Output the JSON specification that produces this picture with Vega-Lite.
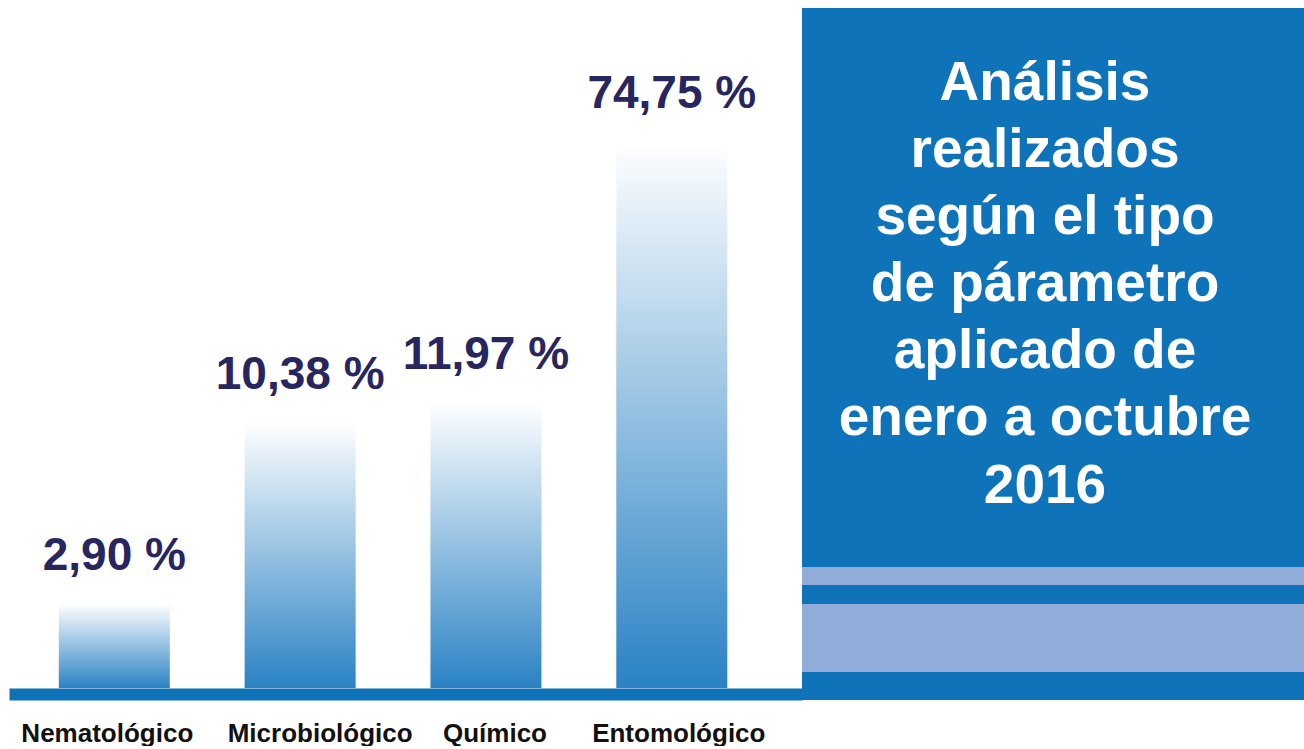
{
  "$schema": "https://vega.github.io/schema/vega-lite/v6.json",
  "background": "white",
  "padding": {"left": 9, "top": 8, "right": 0, "bottom": 0},
  "spacing": 0,
  "config": {
    "view": {"stroke": null},
    "font": "Liberation Sans"
  },
  "hconcat": [
    {
      "width": 793,
      "height": 680,
      "data": {
        "values": [
          {"tipo": "Nematológico", "porcentaje": 2.90, "etiqueta": "2,90 %"},
          {"tipo": "Microbiológico", "porcentaje": 10.38, "etiqueta": "10,38 %"},
          {"tipo": "Químico", "porcentaje": 11.97, "etiqueta": "11,97 %"},
          {"tipo": "Entomológico", "porcentaje": 74.75, "etiqueta": "74,75 %"}
        ]
      },
      "encoding": {
        "x": {
          "field": "tipo",
          "type": "nominal",
          "sort": null,
          "scale": {"paddingInner": 0.4026, "paddingOuter": 0.335, "align": 0.4},
          "axis": {
            "title": null,
            "labelAngle": 0,
            "labelFont": "Liberation Sans",
            "labelFontSize": 26,
            "labelFontWeight": "bold",
            "labelColor": "#111111",
            "labelPadding": 26,
            "labelLimit": 400,
            "labelOverlap": false,
            "labelBound": false,
            "labelOffset": {
              "condition": [
                {"test": "datum.value === 'Nematológico'", "value": -7},
                {"test": "datum.value === 'Microbiológico'", "value": 20},
                {"test": "datum.value === 'Químico'", "value": 9}
              ],
              "value": 7
            },
            "ticks": false,
            "tickSize": 0,
            "domainColor": "#0f73ba",
            "domainWidth": 12,
            "offset": 6,
            "grid": false
          }
        },
        "y": {
          "field": "porcentaje",
          "type": "quantitative",
          "scale": {"type": "log", "domain": [1.6, 190], "nice": false},
          "axis": null
        }
      },
      "layer": [
        {
          "mark": {
            "type": "bar",
            "fill": {
              "gradient": "linear",
              "x1": 0, "y1": 0, "x2": 0, "y2": 1,
              "stops": [
                {"offset": 0, "color": "#ffffff"},
                {"offset": 1, "color": "#2a82c4"}
              ]
            }
          },
          "encoding": {
            "y2": {"datum": 1.6}
          }
        },
        {
          "mark": {
            "type": "text",
            "baseline": "alphabetic",
            "align": "center",
            "dy": -33,
            "fontSize": 46,
            "fontWeight": "bold",
            "font": "Liberation Sans",
            "color": "#27265f"
          },
          "encoding": {"text": {"field": "etiqueta"}}
        }
      ]
    },
    {
      "width": 502,
      "height": 692,
      "view": {"fill": "#0f73ba", "stroke": null},
      "data": {
        "values": [
          {"encabezado": "Análisis\nrealizados\nsegún el tipo\nde párametro\naplicado de\nenero a octubre\n2016"}
        ]
      },
      "layer": [
        {
          "mark": {"type": "rect", "color": "#91acd9"},
          "encoding": {
            "y": {"datum": 16.62, "type": "quantitative", "scale": {"domain": [0, 100], "nice": false, "zero": false}, "axis": null},
            "y2": {"datum": 19.22}
          }
        },
        {
          "mark": {"type": "rect", "color": "#91acd9"},
          "encoding": {
            "y": {"datum": 4.05, "type": "quantitative"},
            "y2": {"datum": 13.87}
          }
        },
        {
          "mark": {
            "type": "text",
            "align": "center",
            "baseline": "alphabetic",
            "lineBreak": "\n",
            "lineHeight": 67.1,
            "fontSize": 55,
            "fontWeight": "bold",
            "font": "Liberation Sans",
            "color": "#ffffff",
            "dx": -8
          },
          "encoding": {
            "text": {"field": "encabezado"},
            "y": {"datum": 86.71, "type": "quantitative"}
          }
        }
      ]
    }
  ]
}
